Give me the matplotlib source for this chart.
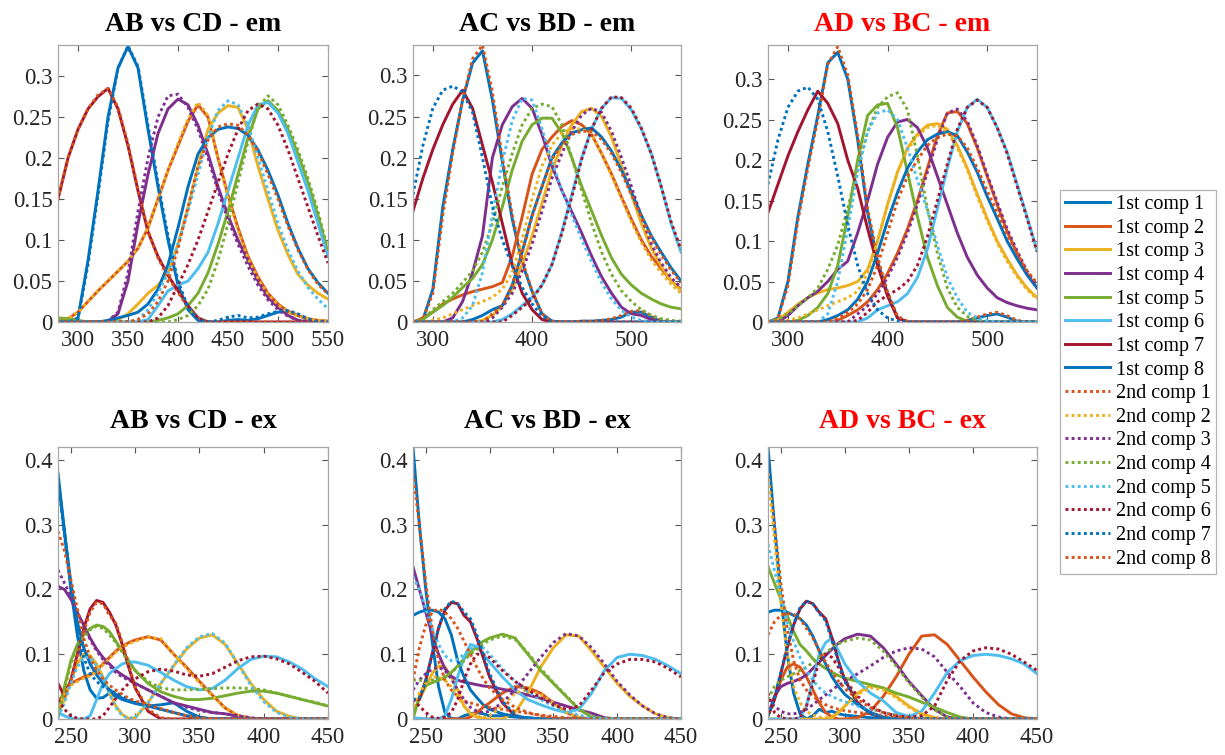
import matplotlib
matplotlib.use('Agg')
import matplotlib.pyplot as plt
from matplotlib.ticker import FuncFormatter

plt.rcParams['font.family'] = ['Liberation Serif', 'DejaVu Serif']

# ---------------- data ----------------
em_x = [280, 290, 300, 310, 320, 330, 340, 350, 360, 370, 380, 390, 400, 410,
        420, 430, 440, 450, 460, 470, 480, 490, 500, 510, 520, 530, 540, 550]
ex_x = [240, 245, 250, 255, 260, 265, 270, 275, 280, 285, 290, 295, 300, 310,
        320, 330, 340, 350, 360, 370, 380, 390, 400, 410, 420, 430, 440, 450]

labels_1st = ['1st comp %d' % i for i in range(1, 9)]
labels_2nd = ['2nd comp %d' % i for i in range(1, 9)]

ab_em_1st = [
    [0,0,0.005,0.075,0.16,0.25,0.31,0.336,0.31,0.235,0.165,0.1,0.045,0.015,0.002,0,0,0.002,0.003,0.002,0.004,0.008,0.012,0.013,0.008,0.003,0,0],
    [0,0.004,0.012,0.025,0.038,0.05,0.062,0.074,0.09,0.115,0.15,0.185,0.215,0.245,0.265,0.25,0.2,0.155,0.115,0.08,0.055,0.035,0.022,0.013,0.008,0.004,0.002,0.001],
    [0,0,0,0,0,0,0.003,0.01,0.022,0.035,0.045,0.06,0.095,0.14,0.19,0.235,0.255,0.264,0.262,0.235,0.19,0.15,0.112,0.082,0.058,0.045,0.035,0.028],
    [0,0,0,0,0,0.001,0.01,0.05,0.12,0.18,0.23,0.26,0.272,0.265,0.24,0.205,0.165,0.13,0.1,0.075,0.05,0.03,0.018,0.008,0.002,0,0,0],
    [0.005,0.004,0.002,0,0,0,0,0,0,0,0.002,0.005,0.01,0.02,0.035,0.06,0.095,0.135,0.18,0.225,0.26,0.27,0.258,0.235,0.205,0.17,0.13,0.085],
    [0,0,0,0,0,0,0,0,0,0.003,0.02,0.038,0.045,0.05,0.065,0.085,0.12,0.16,0.2,0.24,0.265,0.268,0.255,0.23,0.195,0.16,0.12,0.08],
    [0.15,0.2,0.235,0.26,0.275,0.285,0.26,0.215,0.16,0.11,0.08,0.057,0.038,0.02,0.005,0,0,0,0,0,0,0,0,0,0,0,0,0],
    [0,0,0,0,0,0.002,0.005,0.008,0.012,0.022,0.04,0.07,0.115,0.165,0.205,0.225,0.235,0.238,0.236,0.228,0.21,0.185,0.155,0.12,0.09,0.065,0.048,0.035],
]
ab_em_2nd = [
    [0.15,0.2,0.235,0.26,0.277,0.285,0.262,0.218,0.162,0.112,0.078,0.055,0.036,0.018,0.005,0,0,0,0,0,0,0,0,0,0,0,0,0],
    [0,0.004,0.012,0.025,0.038,0.05,0.062,0.075,0.09,0.115,0.15,0.185,0.218,0.248,0.268,0.252,0.2,0.152,0.112,0.078,0.053,0.034,0.021,0.012,0.007,0.004,0.002,0.001],
    [0,0,0,0,0,0.001,0.012,0.06,0.135,0.2,0.25,0.276,0.278,0.262,0.235,0.2,0.16,0.125,0.095,0.068,0.045,0.027,0.015,0.007,0.002,0,0,0],
    [0.003,0.002,0,0,0,0,0,0,0,0,0,0,0.003,0.008,0.02,0.04,0.075,0.12,0.17,0.22,0.262,0.276,0.265,0.24,0.21,0.175,0.135,0.088],
    [0,0,0,0,0,0,0,0,0.003,0.015,0.035,0.06,0.095,0.135,0.18,0.225,0.258,0.27,0.265,0.24,0.2,0.16,0.12,0.088,0.062,0.042,0.028,0.016],
    [0,0,0,0,0,0,0,0,0,0,0.005,0.02,0.045,0.07,0.1,0.135,0.17,0.205,0.235,0.258,0.266,0.26,0.24,0.21,0.175,0.14,0.105,0.072],
    [0,0,0.004,0.07,0.155,0.245,0.31,0.337,0.312,0.24,0.17,0.105,0.05,0.018,0.003,0,0.002,0.006,0.008,0.005,0.006,0.01,0.013,0.014,0.01,0.004,0,0],
    [0,0,0,0,0,0,0,0,0.003,0.01,0.025,0.05,0.09,0.14,0.19,0.222,0.238,0.242,0.24,0.228,0.208,0.18,0.15,0.117,0.088,0.064,0.046,0.034],
]

ac_em_1st = [
    [0,0.003,0.04,0.14,0.21,0.27,0.315,0.33,0.27,0.195,0.125,0.072,0.037,0.01,0.001,0,0,0.001,0.001,0.002,0.003,0.006,0.012,0.012,0.006,0.001,0,0],
    [0,0.005,0.012,0.022,0.028,0.033,0.037,0.04,0.043,0.048,0.08,0.128,0.18,0.21,0.225,0.238,0.245,0.24,0.228,0.205,0.18,0.152,0.125,0.1,0.08,0.065,0.05,0.04],
    [0,0,0,0,0,0,0,0.002,0.008,0.02,0.04,0.07,0.105,0.145,0.185,0.215,0.24,0.256,0.26,0.25,0.225,0.19,0.155,0.12,0.09,0.068,0.05,0.038],
    [0,0,0,0,0.005,0.025,0.06,0.105,0.2,0.24,0.262,0.272,0.26,0.228,0.19,0.16,0.134,0.108,0.08,0.055,0.035,0.018,0.01,0.008,0.003,0,0,0],
    [0,0.003,0.012,0.02,0.03,0.042,0.053,0.07,0.1,0.14,0.185,0.22,0.24,0.248,0.248,0.23,0.2,0.165,0.135,0.105,0.078,0.058,0.045,0.035,0.028,0.022,0.018,0.016],
    [0,0,0,0,0,0,0,0,0,0.003,0.01,0.02,0.03,0.045,0.07,0.11,0.155,0.2,0.235,0.26,0.273,0.272,0.258,0.235,0.205,0.165,0.12,0.085],
    [0.135,0.175,0.21,0.24,0.265,0.282,0.26,0.215,0.17,0.12,0.07,0.035,0.015,0.003,0,0,0,0,0,0,0,0,0,0,0,0,0,0],
    [0,0,0,0,0,0,0.003,0.008,0.015,0.02,0.045,0.085,0.13,0.165,0.2,0.218,0.23,0.234,0.236,0.225,0.208,0.185,0.158,0.13,0.105,0.085,0.066,0.05],
]
ac_em_2nd = [
    [0,0.003,0.035,0.13,0.205,0.27,0.32,0.337,0.28,0.2,0.13,0.075,0.038,0.01,0.001,0,0,0.001,0.001,0.002,0.004,0.008,0.013,0.014,0.008,0.002,0,0],
    [0,0,0.002,0.005,0.01,0.015,0.02,0.025,0.03,0.04,0.06,0.1,0.15,0.19,0.215,0.23,0.235,0.235,0.228,0.205,0.178,0.15,0.122,0.097,0.076,0.06,0.046,0.035],
    [0,0,0,0,0,0,0,0,0.005,0.018,0.035,0.062,0.095,0.135,0.175,0.205,0.232,0.252,0.26,0.255,0.232,0.2,0.165,0.128,0.095,0.072,0.054,0.042],
    [0,0.003,0.015,0.025,0.035,0.048,0.062,0.085,0.12,0.165,0.205,0.24,0.26,0.265,0.262,0.24,0.2,0.16,0.12,0.085,0.058,0.038,0.025,0.015,0.008,0.004,0.002,0.001],
    [0,0,0,0,0,0.005,0.02,0.06,0.13,0.195,0.245,0.272,0.27,0.235,0.195,0.16,0.13,0.1,0.073,0.048,0.028,0.014,0.006,0.002,0,0,0,0],
    [0,0,0,0,0,0,0,0,0,0,0.008,0.018,0.028,0.045,0.07,0.108,0.152,0.198,0.235,0.26,0.274,0.273,0.26,0.236,0.205,0.165,0.122,0.088],
    [0.155,0.215,0.26,0.282,0.287,0.28,0.255,0.2,0.14,0.1,0.068,0.042,0.022,0.007,0.001,0,0,0,0,0,0,0,0,0,0,0,0,0],
    [0,0,0,0,0,0,0,0,0.01,0.02,0.045,0.085,0.128,0.165,0.198,0.216,0.228,0.232,0.232,0.222,0.205,0.182,0.155,0.128,0.103,0.082,0.063,0.048],
]

ad_em_1st = [
    [0,0.005,0.05,0.13,0.195,0.255,0.32,0.333,0.3,0.225,0.135,0.075,0.035,0.005,0,0,0,0,0,0,0.002,0.005,0.008,0.01,0.006,0.001,0,0],
    [0,0,0,0,0,0,0,0.002,0.008,0.015,0.025,0.04,0.06,0.085,0.115,0.15,0.19,0.23,0.258,0.26,0.245,0.215,0.18,0.145,0.112,0.085,0.06,0.042],
    [0,0.003,0.012,0.022,0.03,0.036,0.04,0.042,0.045,0.05,0.065,0.1,0.145,0.185,0.215,0.232,0.243,0.245,0.238,0.218,0.19,0.158,0.128,0.1,0.078,0.058,0.042,0.03],
    [0,0,0.008,0.02,0.03,0.038,0.05,0.065,0.075,0.11,0.15,0.195,0.228,0.247,0.25,0.24,0.215,0.18,0.145,0.11,0.08,0.058,0.042,0.03,0.024,0.02,0.017,0.015],
    [0,0,0,0.002,0.008,0.018,0.035,0.07,0.13,0.2,0.255,0.268,0.27,0.24,0.185,0.13,0.08,0.045,0.018,0.006,0.001,0,0,0,0,0,0,0],
    [0,0,0,0,0,0,0,0,0,0,0.005,0.015,0.02,0.025,0.035,0.055,0.09,0.14,0.19,0.235,0.265,0.275,0.265,0.24,0.21,0.17,0.13,0.088],
    [0.135,0.17,0.205,0.235,0.262,0.285,0.27,0.245,0.2,0.165,0.115,0.07,0.032,0.005,0,0,0,0,0,0,0,0,0,0,0,0,0,0],
    [0,0,0,0,0,0,0.003,0.008,0.015,0.028,0.05,0.085,0.125,0.16,0.19,0.21,0.225,0.232,0.235,0.23,0.21,0.185,0.155,0.128,0.1,0.078,0.058,0.042],
]
ad_em_2nd = [
    [0,0.004,0.045,0.125,0.19,0.25,0.318,0.34,0.305,0.23,0.14,0.08,0.037,0.007,0.001,0,0,0,0,0,0.002,0.006,0.01,0.012,0.008,0.002,0,0],
    [0,0,0.002,0.005,0.01,0.015,0.02,0.025,0.03,0.038,0.06,0.1,0.145,0.185,0.213,0.23,0.24,0.243,0.235,0.215,0.188,0.155,0.125,0.098,0.075,0.056,0.04,0.028],
    [0,0,0,0,0,0,0,0,0,0.01,0.02,0.035,0.055,0.08,0.11,0.145,0.185,0.225,0.258,0.263,0.248,0.218,0.182,0.148,0.115,0.088,0.063,0.045],
    [0,0.003,0.01,0.02,0.03,0.042,0.065,0.095,0.14,0.19,0.235,0.265,0.278,0.283,0.262,0.205,0.14,0.085,0.042,0.018,0.007,0.002,0,0,0,0,0,0],
    [0,0,0,0,0,0,0.01,0.05,0.115,0.185,0.235,0.258,0.262,0.25,0.215,0.175,0.138,0.095,0.055,0.03,0.012,0.005,0.002,0,0,0,0,0],
    [0,0,0,0,0,0,0,0,0,0.002,0.012,0.025,0.033,0.04,0.05,0.07,0.105,0.15,0.195,0.238,0.265,0.274,0.265,0.24,0.208,0.168,0.128,0.087],
    [0.17,0.225,0.265,0.285,0.29,0.275,0.235,0.18,0.12,0.07,0.035,0.015,0.005,0.001,0,0,0,0,0,0,0,0,0,0,0,0,0,0],
    [0,0,0,0,0,0,0,0.005,0.012,0.022,0.04,0.07,0.11,0.15,0.18,0.2,0.218,0.228,0.232,0.23,0.215,0.19,0.162,0.135,0.108,0.085,0.063,0.048],
]

ab_ex_1st = [
    [0.38,0.29,0.2,0.13,0.075,0.045,0.032,0.033,0.04,0.035,0.03,0.027,0.024,0.02,0.022,0.025,0.012,0.003,0,0,0,0,0,0,0,0,0,0],
    [0.02,0.045,0.055,0.06,0.065,0.068,0.075,0.085,0.095,0.105,0.112,0.118,0.122,0.127,0.122,0.1,0.08,0.058,0.037,0.017,0.005,0.001,0,0,0,0,0,0],
    [0.005,0.03,0.06,0.085,0.1,0.098,0.085,0.065,0.04,0.02,0.007,0.001,0.002,0.025,0.055,0.082,0.108,0.125,0.13,0.115,0.085,0.055,0.03,0.012,0.004,0,0,0],
    [0.205,0.2,0.185,0.165,0.145,0.125,0.108,0.095,0.085,0.075,0.068,0.062,0.055,0.045,0.035,0.025,0.02,0.015,0.01,0.008,0.004,0.001,0,0,0,0,0,0],
    [0.005,0.05,0.09,0.115,0.13,0.14,0.145,0.143,0.135,0.12,0.105,0.09,0.075,0.055,0.042,0.035,0.03,0.03,0.032,0.036,0.04,0.043,0.043,0.04,0.035,0.03,0.025,0.02],
    [0.01,0.005,0.001,0,0,0.005,0.03,0.055,0.07,0.078,0.085,0.088,0.088,0.083,0.072,0.06,0.05,0.045,0.047,0.06,0.078,0.092,0.097,0.096,0.088,0.077,0.062,0.05],
    [0.055,0.035,0.06,0.1,0.14,0.17,0.183,0.18,0.165,0.145,0.115,0.08,0.048,0.012,0,0,0,0,0,0,0,0,0,0,0,0,0,0],
    [0.37,0.29,0.21,0.15,0.11,0.085,0.068,0.055,0.045,0.038,0.032,0.028,0.025,0.02,0.015,0.01,0.005,0.002,0,0,0,0,0,0,0,0,0,0],
]
ab_ex_2nd = [
    [0.03,0.035,0.06,0.095,0.135,0.165,0.18,0.178,0.16,0.148,0.118,0.085,0.05,0.015,0.002,0,0,0,0,0,0,0,0,0,0,0,0,0],
    [0.01,0.04,0.052,0.058,0.063,0.066,0.073,0.083,0.093,0.103,0.11,0.116,0.12,0.126,0.124,0.1,0.078,0.056,0.036,0.017,0.006,0.001,0,0,0,0,0,0],
    [0.23,0.21,0.19,0.165,0.143,0.123,0.105,0.092,0.082,0.072,0.065,0.06,0.055,0.045,0.035,0.025,0.018,0.013,0.01,0.008,0.005,0.002,0,0,0,0,0,0],
    [0.005,0.045,0.085,0.11,0.127,0.138,0.143,0.14,0.13,0.118,0.103,0.088,0.075,0.058,0.048,0.045,0.045,0.046,0.047,0.048,0.048,0.047,0.045,0.04,0.035,0.03,0.026,0.02],
    [0.002,0.025,0.055,0.08,0.095,0.095,0.082,0.062,0.038,0.018,0.005,0.001,0.002,0.025,0.055,0.083,0.11,0.127,0.132,0.117,0.085,0.052,0.027,0.01,0.003,0,0,0],
    [0.03,0.015,0.005,0.001,0,0,0,0.005,0.018,0.032,0.045,0.055,0.062,0.073,0.077,0.074,0.068,0.066,0.07,0.08,0.09,0.096,0.097,0.093,0.085,0.072,0.058,0.04],
    [0.37,0.285,0.205,0.14,0.095,0.07,0.058,0.05,0.045,0.04,0.035,0.03,0.026,0.02,0.015,0.01,0.005,0.002,0,0,0,0,0,0,0,0,0,0],
    [0.29,0.26,0.215,0.17,0.125,0.095,0.075,0.062,0.052,0.045,0.038,0.032,0.028,0.022,0.016,0.01,0.005,0.002,0,0,0,0,0,0,0,0,0,0],
]

ac_ex_1st = [
    [0.42,0.3,0.2,0.12,0.05,0.01,0.001,0,0.005,0.008,0.01,0.008,0.005,0.005,0.003,0.002,0,0,0,0,0,0,0,0,0,0,0,0],
    [0,0,0,0,0,0,0,0,0,0.003,0.01,0.018,0.025,0.04,0.05,0.048,0.04,0.025,0.01,0.002,0,0,0,0,0,0,0,0],
    [0.01,0.03,0.05,0.07,0.082,0.08,0.065,0.045,0.02,0.008,0.003,0.001,0,0,0.01,0.04,0.08,0.11,0.13,0.128,0.105,0.08,0.055,0.035,0.02,0.008,0.002,0],
    [0.235,0.2,0.165,0.13,0.1,0.078,0.066,0.06,0.057,0.055,0.053,0.051,0.05,0.046,0.042,0.037,0.032,0.026,0.02,0.014,0.009,0.002,0,0,0,0,0,0],
    [0,0.035,0.052,0.056,0.06,0.064,0.072,0.082,0.093,0.103,0.112,0.12,0.125,0.131,0.125,0.1,0.075,0.055,0.035,0.015,0.003,0,0,0,0,0,0,0],
    [0.002,0.001,0,0,0,0.005,0.03,0.065,0.095,0.115,0.112,0.1,0.088,0.065,0.045,0.03,0.022,0.015,0.01,0.015,0.04,0.075,0.095,0.1,0.098,0.092,0.082,0.07],
    [0.03,0.03,0.06,0.1,0.14,0.168,0.18,0.178,0.16,0.15,0.125,0.095,0.065,0.025,0.005,0,0,0,0,0,0,0,0,0,0,0,0,0],
    [0.16,0.165,0.168,0.168,0.165,0.155,0.13,0.09,0.065,0.045,0.033,0.022,0.015,0.008,0.004,0.002,0,0,0,0,0,0,0,0,0,0,0,0],
]
ac_ex_2nd = [
    [0.38,0.3,0.21,0.14,0.09,0.06,0.045,0.035,0.028,0.025,0.022,0.02,0.018,0.015,0.012,0.009,0.006,0.004,0.002,0,0,0,0,0,0,0,0,0],
    [0.02,0.04,0.055,0.065,0.065,0.06,0.05,0.035,0.02,0.01,0.005,0.002,0.005,0.02,0.04,0.045,0.038,0.025,0.01,0.003,0,0,0,0,0,0,0,0],
    [0.045,0.06,0.07,0.077,0.08,0.075,0.062,0.045,0.03,0.018,0.012,0.01,0.012,0.025,0.045,0.07,0.095,0.118,0.132,0.128,0.11,0.085,0.058,0.037,0.02,0.008,0.002,0],
    [0.06,0.06,0.058,0.06,0.063,0.066,0.072,0.08,0.09,0.1,0.108,0.116,0.122,0.128,0.123,0.102,0.078,0.056,0.036,0.016,0.004,0.001,0,0,0,0,0,0],
    [0.22,0.2,0.17,0.14,0.115,0.098,0.09,0.092,0.1,0.108,0.112,0.11,0.1,0.078,0.058,0.042,0.03,0.02,0.012,0.006,0.002,0,0,0,0,0,0,0],
    [0.03,0.02,0.01,0.003,0.001,0.003,0.01,0.03,0.06,0.085,0.1,0.1,0.095,0.075,0.058,0.045,0.033,0.022,0.015,0.02,0.045,0.072,0.085,0.092,0.092,0.088,0.078,0.065],
    [0.03,0.032,0.058,0.1,0.14,0.17,0.182,0.178,0.165,0.155,0.13,0.1,0.07,0.028,0.006,0,0,0,0,0,0,0,0,0,0,0,0,0],
    [0.06,0.11,0.145,0.165,0.17,0.165,0.155,0.14,0.12,0.1,0.08,0.062,0.048,0.03,0.018,0.01,0.005,0.002,0,0,0,0,0,0,0,0,0,0],
]

ad_ex_1st = [
    [0.42,0.3,0.19,0.1,0.04,0.008,0,0.005,0.015,0.01,0.012,0.008,0.006,0.004,0.002,0.001,0,0,0,0,0,0,0,0,0,0,0,0],
    [0.005,0.03,0.06,0.08,0.085,0.08,0.065,0.045,0.025,0.01,0.003,0,0,0.002,0.012,0.035,0.065,0.1,0.128,0.13,0.115,0.09,0.065,0.042,0.022,0.008,0.002,0],
    [0,0,0,0,0,0,0,0,0,0,0.002,0.01,0.02,0.04,0.052,0.048,0.035,0.02,0.008,0.002,0,0,0,0,0,0,0,0],
    [0.005,0.035,0.05,0.055,0.058,0.062,0.068,0.078,0.088,0.098,0.108,0.117,0.124,0.131,0.128,0.11,0.085,0.058,0.036,0.015,0.003,0,0,0,0,0,0,0],
    [0.235,0.21,0.185,0.16,0.135,0.115,0.105,0.093,0.085,0.078,0.072,0.067,0.063,0.058,0.053,0.048,0.04,0.034,0.026,0.018,0.01,0.003,0,0,0,0,0,0],
    [0,0,0,0,0,0.002,0.02,0.06,0.1,0.118,0.125,0.105,0.085,0.058,0.04,0.028,0.01,0.004,0.012,0.04,0.072,0.09,0.098,0.1,0.098,0.093,0.085,0.07],
    [0.005,0.03,0.07,0.11,0.145,0.17,0.182,0.178,0.165,0.155,0.125,0.09,0.06,0.025,0.008,0.002,0,0,0,0,0,0,0,0,0,0,0,0],
    [0.165,0.168,0.168,0.165,0.16,0.155,0.145,0.128,0.105,0.085,0.065,0.05,0.038,0.022,0.01,0.003,0,0,0,0,0,0,0,0,0,0,0,0],
]
ad_ex_2nd = [
    [0.38,0.3,0.21,0.14,0.09,0.06,0.045,0.035,0.028,0.022,0.018,0.015,0.013,0.01,0.008,0.005,0.003,0.001,0,0,0,0,0,0,0,0,0,0],
    [0.38,0.28,0.18,0.1,0.05,0.025,0.012,0.006,0.003,0.002,0.004,0.01,0.02,0.038,0.048,0.045,0.033,0.018,0.007,0.002,0,0,0,0,0,0,0,0],
    [0.03,0.02,0.012,0.008,0.008,0.01,0.015,0.022,0.03,0.037,0.045,0.052,0.058,0.07,0.082,0.095,0.105,0.11,0.108,0.096,0.072,0.05,0.025,0.01,0.003,0,0,0],
    [0.03,0.05,0.06,0.065,0.07,0.075,0.08,0.087,0.095,0.102,0.11,0.116,0.12,0.125,0.122,0.105,0.082,0.056,0.034,0.014,0.003,0.001,0,0,0,0,0,0],
    [0.27,0.23,0.19,0.15,0.12,0.095,0.075,0.06,0.048,0.04,0.035,0.03,0.027,0.02,0.015,0.01,0.006,0.003,0.001,0,0,0,0,0,0,0,0,0],
    [0.04,0.01,0.002,0,0,0.002,0.02,0.055,0.09,0.1,0.095,0.08,0.06,0.035,0.02,0.01,0.005,0.003,0.005,0.02,0.06,0.09,0.105,0.11,0.108,0.1,0.088,0.075],
    [0.005,0.032,0.072,0.112,0.147,0.172,0.182,0.178,0.163,0.152,0.12,0.088,0.058,0.024,0.008,0.002,0,0,0,0,0,0,0,0,0,0,0,0],
    [0.13,0.15,0.16,0.163,0.162,0.155,0.14,0.125,0.105,0.088,0.072,0.058,0.047,0.03,0.018,0.01,0.005,0.002,0,0,0,0,0,0,0,0,0,0],
]

titles = ['AB vs CD - em', 'AC vs BD - em', 'AD vs BC - em',
          'AB vs CD - ex', 'AC vs BD - ex', 'AD vs BC - ex']
title_colors = ['black', 'black', 'red', 'black', 'black', 'red']

# ---------------- style ----------------
line_colors = ['#0072BD', '#D95319', '#EDB120', '#7E2F8E',
               '#77AC30', '#4DBEEE', '#A2142F']
W, H = 1225, 755
fig = plt.figure(figsize=(W / 100, H / 100), dpi=100)

lefts = [58, 413, 768]
rights = [328, 681, 1037]
rows = [(45, 322), (447, 719)]
title_pads = [10, 14]

panel_data = [
    (em_x, ab_em_1st, ab_em_2nd), (em_x, ac_em_1st, ac_em_2nd), (em_x, ad_em_1st, ad_em_2nd),
    (ex_x, ab_ex_1st, ab_ex_2nd), (ex_x, ac_ex_1st, ac_ex_2nd), (ex_x, ad_ex_1st, ad_ex_2nd),
]
em_ytop = [0.338, 0.337, 0.342]
fmt = FuncFormatter(lambda v, p: ('%g' % round(v, 3)))

handles = []
for k, (x, first, second) in enumerate(panel_data):
    r, c = divmod(k, 3)
    top, bot = rows[r]
    ax = fig.add_axes([lefts[c] / W, 1 - bot / H, (rights[c] - lefts[c]) / W, (bot - top) / H])
    hs = []
    for i, ys in enumerate(first):
        h, = ax.plot(x, ys, color=line_colors[i % 7], lw=2.1, label=labels_1st[i])
        hs.append(h)
    for j, ys in enumerate(second):
        h, = ax.plot(x, ys, color=line_colors[(8 + j) % 7], lw=2.1,
                     ls=(0, (1, 1.1)), label=labels_2nd[j])
        hs.append(h)
    if k == 0:
        handles = hs
    if r == 0:
        ax.set_xlim(280, 550)
        ax.set_ylim(0, em_ytop[c])
        ax.set_yticks([0, 0.05, 0.1, 0.15, 0.2, 0.25, 0.3])
        if c == 0:
            ax.set_xticks([300, 350, 400, 450, 500, 550])
        else:
            ax.set_xticks([300, 400, 500])
    else:
        ax.set_xlim(240, 450)
        ax.set_ylim(0, 0.42)
        ax.set_yticks([0, 0.1, 0.2, 0.3, 0.4])
        ax.set_xticks([250, 300, 350, 400, 450])
    ax.yaxis.set_major_formatter(fmt)
    ax.tick_params(direction='in', top=True, right=True, length=4, width=0.8,
                   color='#555555', labelcolor='#262626', labelsize=16.5)
    ax.tick_params(axis='x', pad=6)
    ax.tick_params(axis='y', pad=4)
    for s in ax.spines.values():
        s.set_color('#a6a6a6')
        s.set_linewidth(0.9)
    ax.set_title(titles[k], fontsize=20, fontweight='bold', color=title_colors[k],
                 pad=title_pads[r])

leg = fig.legend(handles, labels_1st + labels_2nd, loc='upper left',
                 bbox_to_anchor=(1060 / W, 1 - 190 / H), frameon=True, fancybox=False,
                 edgecolor='#a0a0a0', fontsize=14.5, handlelength=2.25, labelspacing=0.225,
                 borderpad=0.25, handletextpad=0.3, borderaxespad=0)
leg.get_frame().set_linewidth(0.9)

fig.savefig('out.png', dpi=100)
